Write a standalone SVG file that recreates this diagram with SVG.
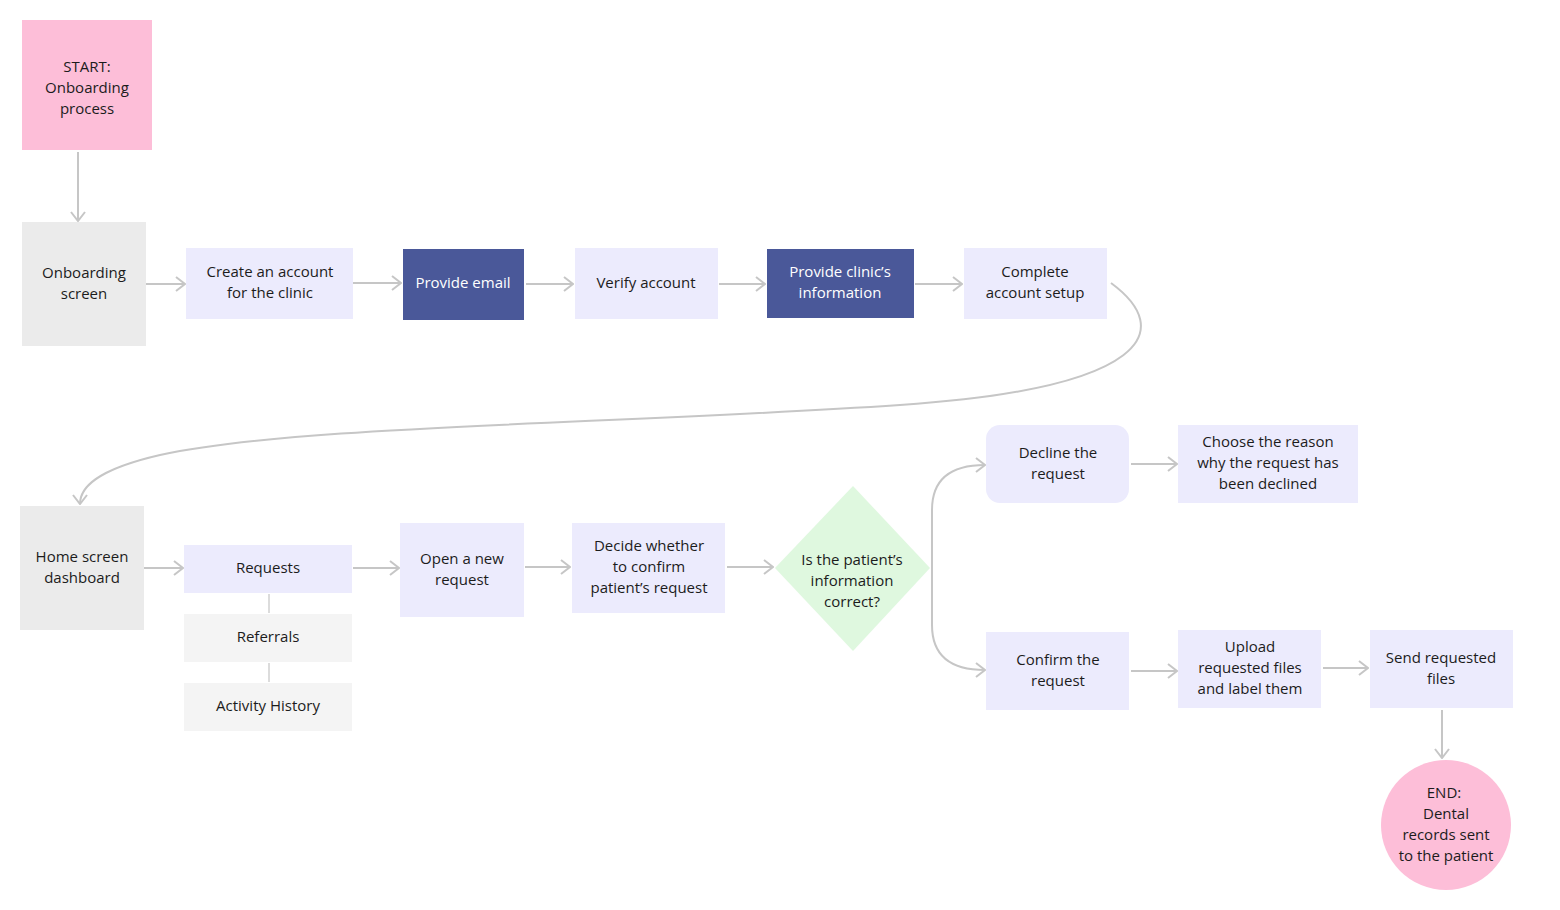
<svg xmlns="http://www.w3.org/2000/svg" width="1560" height="910" viewBox="0 0 1560 910">
<style>
text{font-family:"Open Sans","Liberation Sans",sans-serif;font-size:15px;fill:#1c1c1c;text-anchor:middle}
.w{fill:#ffffff}
.pink{fill:#FDBED8}
.gray{fill:#EBEBEB}
.lav{fill:#ECEBFD}
.dark{fill:#4A5899}
.light{fill:#F4F4F4}
.green{fill:#DFF8DF}
.c{fill:none;stroke:#C6C6C6;stroke-width:2}
.s{fill:none;stroke:#D0D0D0;stroke-width:1.5}
</style>
<defs>
<marker id="ah" viewBox="0 0 12 16" refX="11" refY="8" markerWidth="12" markerHeight="16" markerUnits="userSpaceOnUse" orient="auto">
<path d="M2,1 L11,8 L2,15" fill="none" stroke="#C6C6C6" stroke-width="2"/>
</marker>
</defs>
<rect width="1560" height="910" fill="#ffffff"/>
<g id="connectors">
<path class="c" d="M78,152 L78,221" marker-end="url(#ah)"/>
<path class="c" d="M146,284 L185,284" marker-end="url(#ah)"/>
<path class="c" d="M353,283 L401,283" marker-end="url(#ah)"/>
<path class="c" d="M526,284 L573,284" marker-end="url(#ah)"/>
<path class="c" d="M719,284 L765,284" marker-end="url(#ah)"/>
<path class="c" d="M915,284 L962,284" marker-end="url(#ah)"/>
<path class="c" d="M1111,283 C1175,330 1150,388 900,405 C600,425 300,425 160,455 C95,470 80,488 80,504" marker-end="url(#ah)"/>
<path class="c" d="M137,568 L183,568" marker-end="url(#ah)"/>
<path class="s" d="M269,594 L269,613"/>
<path class="s" d="M269,663 L269,682"/>
<path class="c" d="M353,568 L399,568" marker-end="url(#ah)"/>
<path class="c" d="M525,567 L570,567" marker-end="url(#ah)"/>
<path class="c" d="M727,567 L773,567" marker-end="url(#ah)"/>
<path class="c" d="M932,568 L932,510 C932,480 950,465 985,465" marker-end="url(#ah)"/>
<path class="c" d="M932,568 L932,625 C932,655 950,670 985,670" marker-end="url(#ah)"/>
<path class="c" d="M1131,464 L1177,464" marker-end="url(#ah)"/>
<path class="c" d="M1131,671 L1177,671" marker-end="url(#ah)"/>
<path class="c" d="M1323,668 L1368,668" marker-end="url(#ah)"/>
<path class="c" d="M1442,710 L1442,758" marker-end="url(#ah)"/>
</g>
<g id="start"><rect class="pink" x="22" y="20" width="130" height="130"/>
<text x="87" y="72">START:</text><text x="87" y="93">Onboarding</text><text x="87" y="114">process</text></g>
<g id="onboarding-screen"><rect class="gray" x="22" y="222" width="124" height="124"/>
<text x="84" y="278">Onboarding</text><text x="84" y="299">screen</text></g>
<g id="create-account"><rect class="lav" x="186" y="248" width="167" height="71"/>
<text x="270" y="277">Create an account</text><text x="270" y="298">for the clinic</text></g>
<g id="provide-email"><rect class="dark" x="403" y="249" width="121" height="71"/>
<text class="w" x="463" y="288">Provide email</text></g>
<g id="verify-account"><rect class="lav" x="575" y="248" width="143" height="71"/>
<text x="646" y="288">Verify account</text></g>
<g id="provide-clinic"><rect class="dark" x="767" y="249" width="147" height="69"/>
<text class="w" x="840" y="277">Provide clinic’s</text><text class="w" x="840" y="298">information</text></g>
<g id="complete-setup"><rect class="lav" x="964" y="248" width="143" height="71"/>
<text x="1035" y="277">Complete</text><text x="1035" y="298">account setup</text></g>
<g id="home-dashboard"><rect class="gray" x="20" y="506" width="124" height="124"/>
<text x="82" y="562">Home screen</text><text x="82" y="583">dashboard</text></g>
<g id="requests"><rect class="lav" x="184" y="545" width="168" height="48"/>
<text x="268" y="573">Requests</text></g>
<g id="referrals"><rect class="light" x="184" y="614" width="168" height="48"/>
<text x="268" y="642">Referrals</text></g>
<g id="activity-history"><rect class="light" x="184" y="683" width="168" height="48"/>
<text x="268" y="711">Activity History</text></g>
<g id="open-request"><rect class="lav" x="400" y="523" width="124" height="94"/>
<text x="462" y="564">Open a new</text><text x="462" y="585">request</text></g>
<g id="decide"><rect class="lav" x="572" y="523" width="153" height="90"/>
<text x="649" y="551">Decide whether</text><text x="649" y="572">to confirm</text><text x="649" y="593">patient’s request</text></g>
<g id="decision"><polygon class="green" points="853,486 930,568 853,651 775,568"/>
<text x="852" y="565">Is the patient’s</text><text x="852" y="586">information</text><text x="852" y="607">correct?</text></g>
<g id="decline"><rect class="lav" x="986" y="425" width="143" height="78" rx="14"/>
<text x="1058" y="458">Decline the</text><text x="1058" y="479">request</text></g>
<g id="choose-reason"><rect class="lav" x="1178" y="425" width="180" height="78"/>
<text x="1268" y="447">Choose the reason</text><text x="1268" y="468">why the request has</text><text x="1268" y="489">been declined</text></g>
<g id="confirm"><rect class="lav" x="986" y="632" width="143" height="78"/>
<text x="1058" y="665">Confirm the</text><text x="1058" y="686">request</text></g>
<g id="upload"><rect class="lav" x="1178" y="630" width="143" height="78"/>
<text x="1250" y="652">Upload</text><text x="1250" y="673">requested files</text><text x="1250" y="694">and label them</text></g>
<g id="send"><rect class="lav" x="1370" y="630" width="143" height="78"/>
<text x="1441" y="663">Send requested</text><text x="1441" y="684">files</text></g>
<g id="end"><circle class="pink" cx="1446" cy="825" r="65"/>
<text x="1444" y="798">END:</text><text x="1446" y="819">Dental</text><text x="1446" y="840">records sent</text><text x="1446" y="861">to the patient</text></g>
</svg>
